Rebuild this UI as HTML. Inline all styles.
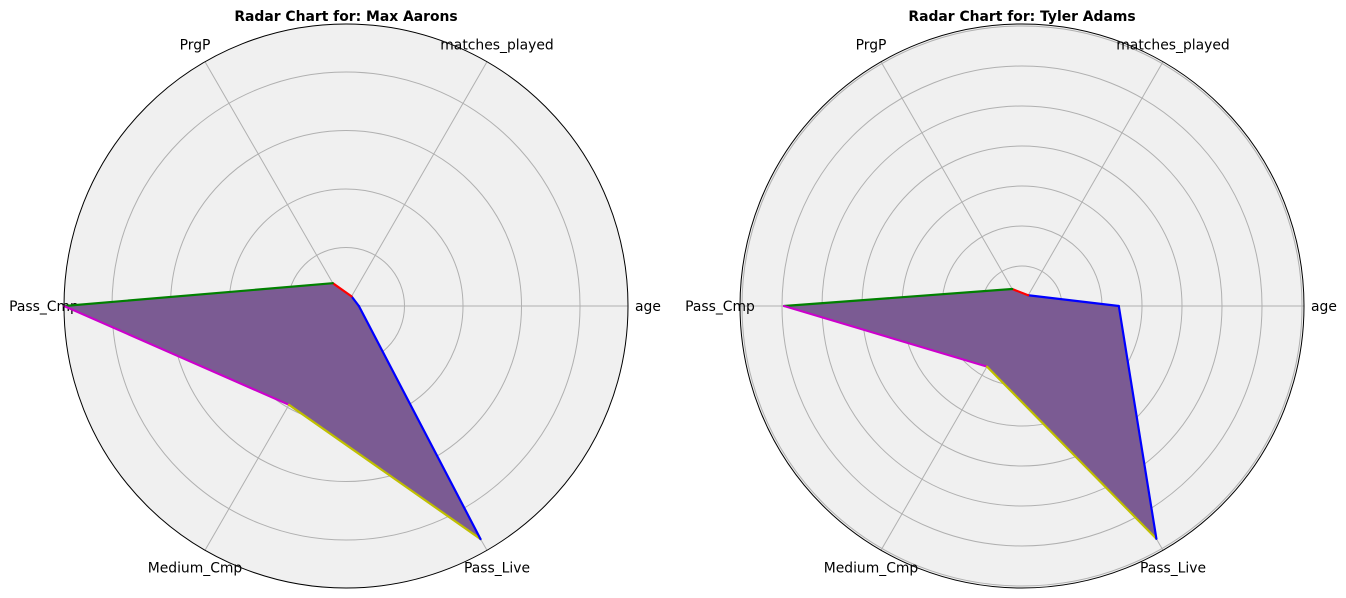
<!DOCTYPE html>
<html><head><meta charset="utf-8"><style>
body{margin:0;background:#fff;}
svg{display:block;font-family:"DejaVu Sans","Liberation Sans",sans-serif;}
</style></head><body>
<svg id="c" width="1346" height="598" viewBox="0 0 1346 598"></svg>
<script>
const categories = ["age","matches_played","PrgP","Pass_Cmp","Medium_Cmp","Pass_Live"];
const playerNames = ["Max Aarons","Tyler Adams"];
const aaronsValues = [0.22,0.19,0.45,4.82,1.95,4.6];
const adamsValues = [2.42,0.31,0.49,5.95,1.75,6.72];
const aaronsTicks = [1,2,3,4];
const adamsTicks = [1,2,3,4,5,6,7];
const aaronsMax = 4.82;
const adamsMax = 7.05;
const segColors = ["#0000ff","#ff0000","#008000","#cc00cc","#bfbf00","#0000ff"];

const NS="http://www.w3.org/2000/svg";
const svg=document.getElementById('c');
function mk(tag,attrs,parent){const e=document.createElementNS(NS,tag);for(const k in attrs)e.setAttribute(k,attrs[k]);(parent||svg).appendChild(e);return e;}

function radar(cx,cy,R,vals,ticks,rmax,name,key){
  const g=mk('g',{});
  
  
  const rs=v=>v/rmax*R;
  const ang=i=>i*2*Math.PI/categories.length;
  const pt=(i,v)=>[cx+rs(v)*Math.cos(ang(i)),cy-rs(v)*Math.sin(ang(i))];
  const bg=mk('circle',{cx:cx,cy:cy,r:R,fill:'#f0f0f0'},g);
  
  
  ticks.forEach(t=>{const c=mk('circle',{cx:cx,cy:cy,r:rs(t),fill:'none',stroke:'#b0b0b0','stroke-width':1},g);
    
    });
  categories.forEach((cat,i)=>{const [x,y]=pt(i,rmax);
    const l=mk('line',{x1:cx,y1:cy,x2:x,y2:y,stroke:'#b0b0b0','stroke-width':1},g);
    
    
    const d=R+20;
    const tx=mk('text',{x:cx+d*Math.cos(ang(i)),y:cy-d*Math.sin(ang(i))+5,'text-anchor':'middle','font-size':13.9,fill:'#000'},g);
    tx.textContent=cat;
    
    });
  const pts=vals.map((v,i)=>pt(i,v));
  const poly=mk('polygon',{points:pts.map(p=>p.join(',')).join(' '),fill:'#7b5b93',stroke:'none'},g);
  
  
  pts.forEach((p,i)=>{const q=pts[(i+1)%pts.length];
    const s=mk('line',{x1:p[0],y1:p[1],x2:q[0],y2:q[1],stroke:segColors[i],'stroke-width':2.2,'stroke-linecap':'round'},g);
    
    });
  const edge=mk('circle',{cx:cx,cy:cy,r:R,fill:'none',stroke:'#000','stroke-width':1},g);
  
  
  const t=mk('text',{x:cx,y:21,'text-anchor':'middle','font-size':13.9,'font-weight':'bold'},g);
  t.textContent='Radar Chart for: '+name;
  
  
}
radar(346,306,282,aaronsValues,aaronsTicks,aaronsMax,playerNames[0],'aarons');
radar(1022,306,282,adamsValues,adamsTicks,adamsMax,playerNames[1],'adams');
</script>
</body></html>
